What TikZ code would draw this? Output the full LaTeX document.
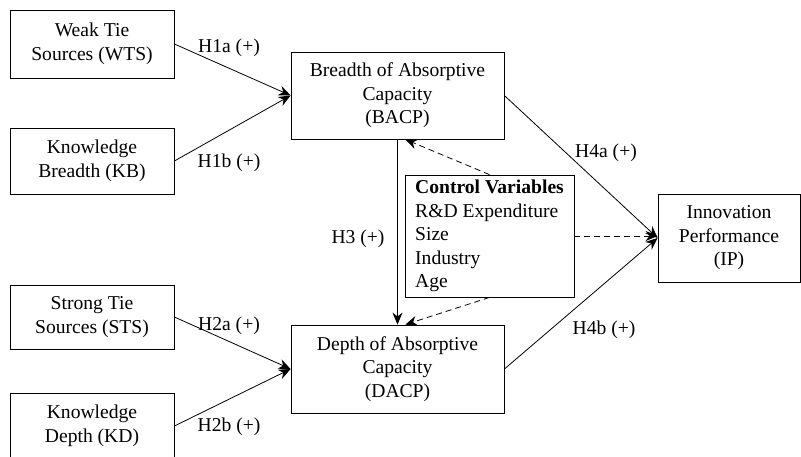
\documentclass[tikz,border=0pt]{standalone}
\usepackage{fontspec}
\setmainfont{Liberation Serif}
\usetikzlibrary{arrows.meta}

\tikzset{
  var/.style={rectangle, draw, line width=0.8pt, align=center, inner sep=0pt},
  hyp/.style={line width=0.8pt, -{Stealth[length=12pt, width=10pt]}},
  ctrl/.style={hyp, dash pattern=on 6pt off 4pt},
  lbl/.style={inner sep=0pt}
}

\begin{document}
\begin{tikzpicture}[x=1pt, y=-1pt, font=\fontsize{19.6}{23.5}\selectfont]

\useasboundingbox (0,0) rectangle (801,456);

% sources
\draw (92,44) node (wts) [var, minimum width=164pt, minimum height=68pt] {Weak Tie\\Sources (WTS)};
\draw (92,161) node (kb) [var, minimum width=164pt, minimum height=66pt] {Knowledge\\Breadth (KB)};
\draw (92,317) node (sts) [var, minimum width=164pt, minimum height=64pt] {Strong Tie\\Sources (STS)};
\draw (92,426) node (kd) [var, minimum width=164pt, minimum height=66pt] {Knowledge\\Depth (KD)};

% absorptive capacity
\draw (397.5,95.5) node (bacp) [var, minimum width=213pt, minimum height=87pt] {Breadth of Absorptive\\Capacity\\(BACP)};
\draw (397.5,369) node (dacp) [var, minimum width=213pt, minimum height=88pt] {Depth of Absorptive\\Capacity\\(DACP)};

% controls and outcome
\draw (489.5,236) node (cv) [var, minimum width=169pt, minimum height=122pt, align=left] {\textbf{Control Variables}\\R\&D Expenditure\\Size\\Industry\\Age};
\draw (729,238) node (ip) [var, minimum width=142pt, minimum height=88pt] {Innovation\\Performance\\(IP)};

% hypotheses
\draw [hyp] (wts.east) -- (bacp.west);
\draw [hyp] (kb.east) -- (bacp.west);
\draw [hyp] (sts.east) -- (dacp.west);
\draw [hyp] (kd.east) -- (dacp.west);
\draw [hyp] (bacp.south) -- (dacp.north);
\draw [hyp] (bacp.east) -- (ip.west);
\draw [hyp] (dacp.east) -- (ip.west);

\draw [ctrl] (cv.north) -- (bacp.280);
\draw [ctrl] (cv.south) -- (dacp.80);
\draw [ctrl] (cv.east) -- (cv.east -| ip.west);

\node (h1a) [lbl] at (229,48) {H1a (+)};
\node (h1b) [lbl] at (229,163) {H1b (+)};
\node (h2a) [lbl] at (229,326) {H2a (+)};
\node (h2b) [lbl] at (229,427) {H2b (+)};
\node (h3) [lbl] at (358,239) {H3 (+)};
\node (h4a) [lbl] at (606,153) {H4a (+)};
\node (h4b) [lbl] at (604,330) {H4b (+)};

\end{tikzpicture}
\end{document}
